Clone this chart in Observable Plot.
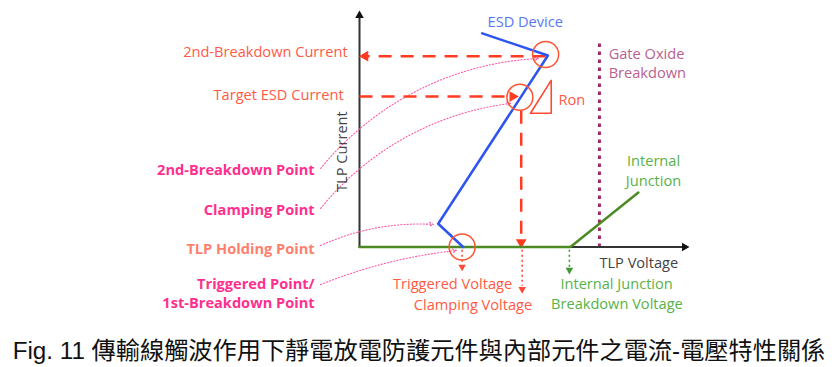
<!DOCTYPE html>
<html>
<head>
<meta charset="utf-8">
<script src="https://cdn.jsdelivr.net/npm/d3@7"></script>
<script src="https://cdn.jsdelivr.net/npm/@observablehq/plot@0.6"></script>
<style>
  body { margin: 0; background: #fff; }
  #caption { width: 838px; text-align: center; font-family: "Liberation Sans", "Noto Sans CJK TC", sans-serif; font-size: 24.2px; line-height: 28px; color: #111; margin-top: 7px; }
</style>
</head>
<body>
<div id="chart"></div>
<div id="caption"></div>
<script>
// Schematic TLP I-V characteristic (arbitrary units: V = TLP voltage, I = TLP current)
const captionText = "Fig. 11 傳輸線觸波作用下靜電放電防護元件與內部元件之電流-電壓特性關係";

// axes (arbitrary units)
const axisX = [{V: 0, I: 0}, {V: 9.85, I: 0}];
const axisY = [{V: 0, I: 0}, {V: 0, I: 9.8}];
const axisHeads = [{V: 9.85, I: 0, dir: "right"}, {V: 0, I: 9.85, dir: "up"}];

// ESD device curve: snapback end, 2nd breakdown, holding, trigger
const esdCurve = [
  {V: 3.72, I: 9.09},
  {V: 5.71, I: 8.15},
  {V: 2.385, I: 0.99},
  {V: 3.14, I: 0}
];
// internal junction curve
const junctionCurve = [{V: 0, I: 0}, {V: 6.39, I: 0}, {V: 8.45, I: 2.32}];
// gate oxide breakdown level
const gateOxide = [{V: 7.27, I0: 0, I1: 8.85}];

// key points circled
const keyPoints = [
  {name: "2nd-Breakdown", V: 5.64, I: 8.19},
  {name: "Clamping", V: 4.86, I: 6.37},
  {name: "Triggered", V: 3.11, I: 0}
];

// dashed projections
const dashedLinks = [
  {V1: 5.64, I1: 8.12, V2: 0.2, I2: 8.12},
  {V1: 0, I1: 6.40, V2: 4.55, I2: 6.40},
  {V1: 4.90, I1: 5.8, V2: 4.90, I2: 0.3}
];
const dashedHeads = [
  {V: 0.17, I: 8.12, dir: "left"},
  {V: 4.64, I: 6.40, dir: "right"},
  {V: 4.90, I: 0.2, dir: "down"}
];

// dotted arrows below the voltage axis
const dropLinks = [
  {V: 3.11, I1: -0.12, I2: -0.75, kind: "red"},
  {V: 4.93, I1: -0.12, I2: -1.65, kind: "red"},
  {V: 6.36, I1: -0.12, I2: -0.85, kind: "green"}
];
const dropHeads = [
  {V: 3.11, I: -0.85, kind: "red"},
  {V: 4.93, I: -1.80, kind: "red"},
  {V: 6.36, I: -0.98, kind: "green"}
];

// Ron triangle
const ronTriangle = [
  {V: 5.18, I: 5.69}, {V: 5.81, I: 7.09}, {V: 5.81, I: 5.69}, {V: 5.18, I: 5.69}
];

// pointer curves from point labels
const pointers = [
  {V1: -1.18, I1: 3.34, V2: 5.42, I2: 8.02, bend: 24},
  {V1: -1.18, I1: 1.64, V2: 4.58, I2: 6.11, bend: 22},
  {V1: -1.18, I1: 0.06, V2: 2.24, I2: 0.96, bend: 14},
  {V1: -1.18, I1: -1.60, V2: 2.94, I2: -0.15, bend: 8}
];

// labels
const levelLabels = [
  {text: "2nd-Breakdown Current", V: -0.36, I: 8.29},
  {text: "Target ESD Current", V: -0.48, I: 6.45}
];
const pointLabels = [
  {text: "2nd-Breakdown Point", V: -1.36, I: 3.26, kind: "pink"},
  {text: "Clamping Point", V: -1.36, I: 1.55, kind: "pink"},
  {text: "TLP Holding Point", V: -1.36, I: -0.08, kind: "salmon"},
  {text: "Triggered Point/", V: -1.36, I: -1.60, kind: "pink"},
  {text: "1st-Breakdown Point", V: -1.36, I: -2.39, kind: "pink"}
];
const voltageLabels = [
  {text: "Triggered Voltage", V: 2.82, I: -1.60, kind: "red"},
  {text: "Clamping Voltage", V: 3.44, I: -2.49, kind: "red"},
  {text: "Internal Junction", V: 7.79, I: -1.60, kind: "green"},
  {text: "Breakdown Voltage", V: 7.80, I: -2.45, kind: "green"},
  {text: "Internal", V: 8.91, I: 3.64, kind: "green"},
  {text: "Junction", V: 8.91, I: 2.79, kind: "green"}
];
const startLabels = [
  {text: "ESD Device", V: 3.88, I: 9.57, kind: "blue"},
  {text: "Ron", V: 6.03, I: 6.23, kind: "red"},
  {text: "Gate Oxide", V: 7.55, I: 8.19, kind: "purple"},
  {text: "Breakdown", V: 7.55, I: 7.40, kind: "purple"},
  {text: "TLP Voltage", V: 7.27, I: -0.70, kind: "axis"}
];
const axisTitleY = [{text: "TLP Current", V: -0.52, I: 4.06}];

const colors = {
  red: "#ff5a44", salmon: "#ff7f6e", pink: "#ff2f8e", green: "#58b247",
  blue: "#5a78f2", purple: "#b8618f", axis: "#444"
};
const rot = {up: 0, right: 90, down: 180, left: -90};
const font = "'Open Sans', Lato, sans-serif";

const chart = Plot.plot({
  width: 838,
  height: 330,
  margin: 0,
  x: {domain: [0, 10], range: [359, 689], axis: null},
  y: {domain: [0, 10], range: [246.5, 11.5], axis: null},
  style: {fontFamily: font, background: "#fff"},
  marks: [
    // gate oxide dotted line
    Plot.link(gateOxide, {x1: "V", x2: "V", y1: "I0", y2: "I1", stroke: "#9e2b67", strokeWidth: 3, strokeDasharray: "3.5,4.5"}),
    // axes
    Plot.line(axisX, {x: "V", y: "I", stroke: "#333", strokeWidth: 2}),
    Plot.line(axisY, {x: "V", y: "I", stroke: "#333", strokeWidth: 2}),
    Plot.dot(axisHeads, {x: "V", y: "I", symbol: "triangle", r: 3.2, fill: "#111", stroke: "none", rotate: d => rot[d.dir]}),
    // pointer curves
    ...pointers.map(p => Plot.arrow([p], {x1: "V1", y1: "I1", x2: "V2", y2: "I2", bend: p.bend, stroke: "#ff5aa8", strokeWidth: 1.1, strokeDasharray: "1.2,2", headLength: 6, headAngle: 50})),
    // dashed projections
    Plot.link(dashedLinks, {x1: "V1", y1: "I1", x2: "V2", y2: "I2", stroke: "#ff3b22", strokeWidth: 2.5, strokeDasharray: "13,9"}),
    Plot.dot(dashedHeads, {x: "V", y: "I", symbol: "triangle", r: 4, fill: "#ff3b22", stroke: "none", rotate: d => rot[d.dir]}),
    // dotted drops
    Plot.link(dropLinks, {x1: "V", x2: "V", y1: "I1", y2: "I2", stroke: d => d.kind === "red" ? "#ff4a38" : "#3e9a2e", strokeWidth: 1.6, strokeDasharray: "2,3"}),
    Plot.dot(dropHeads, {x: "V", y: "I", symbol: "triangle", r: 2.8, fill: d => d.kind === "red" ? "#ff4a38" : "#3e9a2e", stroke: "none", rotate: 180}),
    // curves
    Plot.line(junctionCurve, {x: "V", y: "I", stroke: "#4e8a23", strokeWidth: 2.5}),
    Plot.line(esdCurve, {x: "V", y: "I", stroke: "#2d55f0", strokeWidth: 2.5}),
    // circles
    Plot.dot(keyPoints, {x: "V", y: "I", r: 13, stroke: "#ff5533", strokeWidth: 1.5, fill: "none"}),
    // Ron triangle
    Plot.line(ronTriangle, {x: "V", y: "I", stroke: "#ff4a33", strokeWidth: 1.6}),
    // labels
    Plot.text(levelLabels, {x: "V", y: "I", text: "text", textAnchor: "end", fill: colors.red, fontSize: 14.6}),
    Plot.text(pointLabels, {x: "V", y: "I", text: "text", textAnchor: "end", fill: d => colors[d.kind], fontSize: 14.6, fontWeight: "bold"}),
    Plot.text(voltageLabels, {x: "V", y: "I", text: "text", textAnchor: "middle", fill: d => colors[d.kind], fontSize: 14.6}),
    Plot.text(startLabels, {x: "V", y: "I", text: "text", textAnchor: "start", fill: d => colors[d.kind], fontSize: 14.6}),
    Plot.text(axisTitleY, {x: "V", y: "I", text: "text", rotate: -90, fill: "#444", fontSize: 14.6})
  ]
});
document.getElementById("chart").appendChild(chart);
document.getElementById("caption").textContent = captionText;
</script>
</body>
</html>
